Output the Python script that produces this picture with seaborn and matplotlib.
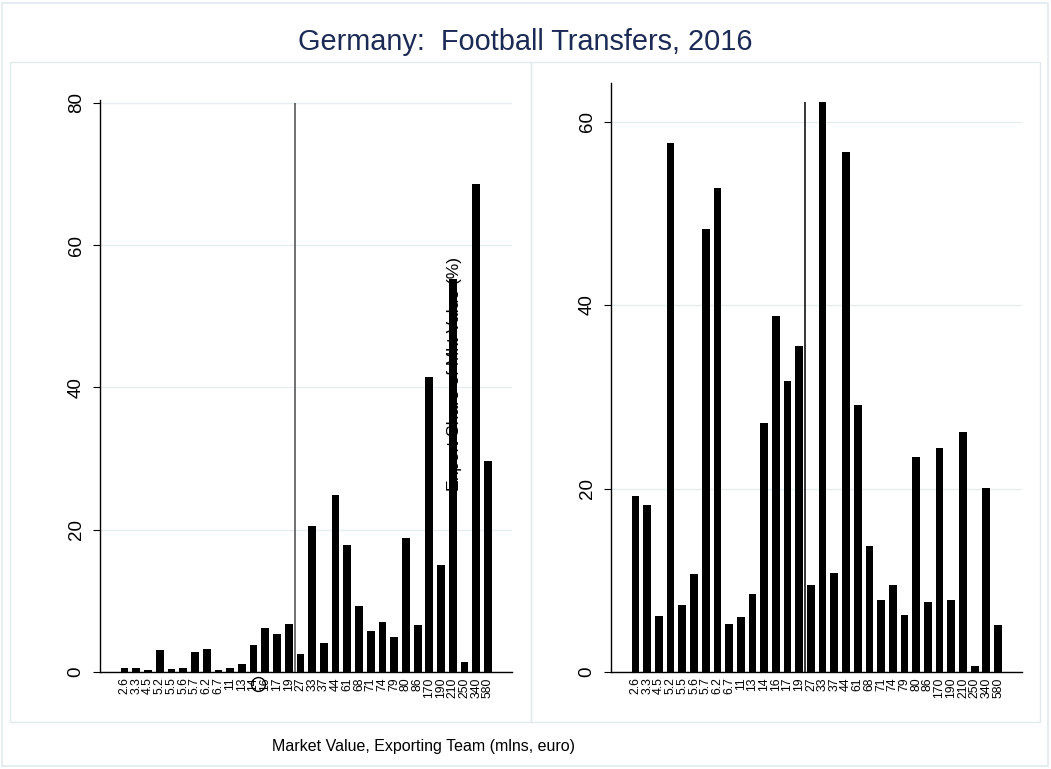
import numpy as np
import pandas as pd
import matplotlib
matplotlib.use("Agg")
import matplotlib.pyplot as plt
import matplotlib.transforms as mtransforms
from matplotlib.patches import Rectangle
import seaborn as sns

# ---------------- data ----------------
categories = ["2.6", "3.3", "4.5", "5.2", "5.5", "5.6", "5.7", "6.2", "6.7", "11",
              "13", "14", "16", "17", "19", "27", "33", "37", "44", "61",
              "68", "71", "74", "79", "80", "86", "170", "190", "210", "250",
              "340", "580"]
left_values = [0.5, 0.6, 0.25, 3.05, 0.4, 0.6, 2.8, 3.3, 0.35, 0.6,
               1.1, 3.75, 6.15, 5.4, 6.7, 2.6, 20.5, 4.1, 24.9, 17.9,
               9.3, 5.7, 7.0, 4.9, 18.8, 6.6, 41.5, 15.0, 55.2, 1.4,
               68.6, 29.6]
right_values = [19.2, 18.2, 6.1, 57.7, 7.3, 10.7, 48.3, 52.8, 5.2, 6.0,
                8.5, 27.1, 38.8, 31.7, 35.5, 9.5, 62.1, 10.8, 56.7, 29.1,
                13.7, 7.9, 9.45, 6.2, 23.4, 7.6, 24.4, 7.9, 26.2, 0.6,
                20.1, 5.1]
left_yticks = [0, 20, 40, 60, 80]
right_yticks = [0, 20, 40, 60]
split_category = "27"   # reference line drawn just before this category
left_line_top = 80

title = "Germany:  Football Transfers, 2016"
xlabel = "Market Value, Exporting Team (mlns, euro)"
ylabel = "Export Share of Mkt Value (%)"

# ---------------- style ----------------
sns.set_style("white")
plt.rcParams["font.family"] = ["Liberation Sans", "DejaVu Sans"]

W, H = 1051, 769
fig = plt.figure(figsize=(W / 100, H / 100), dpi=100)
fig.patch.set_facecolor("white")

def px_axes(x0, y0, x1, y1):
    return fig.add_axes([x0 / W, 1 - y1 / H, (x1 - x0) / W, (y1 - y0) / H])

# panel frames
border = "#e2eaee"
fig.add_artist(Rectangle((2 / W, 1 - 766 / H), 1046 / W, 763 / H, transform=fig.transFigure,
                         fill=False, edgecolor=border, lw=1.2))
fig.add_artist(Rectangle((10 / W, 1 - 722 / H), 521 / W, 660 / H, transform=fig.transFigure,
                         fill=False, edgecolor=border, lw=1.0))
fig.add_artist(Rectangle((531 / W, 1 - 722 / H), 509 / W, 660 / H, transform=fig.transFigure,
                         fill=False, edgecolor=border, lw=1.0))

ax1 = px_axes(100, 100, 512, 672)
ax2 = px_axes(611, 83, 1022, 672)

df_left = pd.DataFrame({"cat": categories, "val": left_values})
df_right = pd.DataFrame({"cat": categories, "val": right_values})

grid_col = "#e7eef2"
split_pos = categories.index(split_category) - 0.5

for ax, df, yt, ytop, line_top, line_col in [
    (ax1, df_left, left_yticks, 80.4, left_line_top, "#4a4a4a"),
    (ax2, df_right, right_yticks, 64.2, max(right_values), "black"),
]:
    sns.barplot(data=df, x="cat", y="val", order=categories, color="black",
                saturation=1, width=0.66, ax=ax, edgecolor="black", linewidth=0)
    ax.set_xlim(-2.1, 33.05)
    ax.set_ylim(0, ytop)
    ax.set_yticks(yt)
    ax.set_yticklabels([str(v) for v in yt], rotation=90, va="center", fontsize=13.5)
    ax.set_xticks(range(len(categories)))
    ax.set_xticklabels(categories, rotation=90, fontsize=8.8)
    ax.set_xlabel("")
    ax.set_ylabel("")
    ax.set_axisbelow(True)
    for v in yt:
        ax.axhline(v, color=grid_col, lw=1.0, zorder=0.4)
    for s in ["top", "right"]:
        ax.spines[s].set_visible(False)
    for s in ["left", "bottom"]:
        ax.spines[s].set_color("black")
        ax.spines[s].set_linewidth(1.0)
    ax.tick_params(axis="y", which="major", direction="out", length=5, width=0.8,
                   colors="black", pad=6, left=True)
    ax.tick_params(axis="x", which="major", length=0, pad=4, colors="black")
    ax.vlines(split_pos, 0, line_top, color=line_col, lw=1.1, zorder=3)
    ax.set_facecolor("white")

# circle marker overlapping tick labels in the left panel
trans = mtransforms.blended_transform_factory(ax1.transData, ax1.transAxes)
ax1.plot([11.4], [-0.021], marker="o", mfc="none", mec="black", ms=10, mew=1.0,
         transform=trans, clip_on=False, zorder=5)

# y-axis title (drawn beneath bars)
ax1.text(455 / W, 1 - 374 / H, ylabel, transform=fig.transFigure, rotation=90,
         ha="center", va="center", fontsize=12.5, color="black", zorder=0.5)

fig.text(0.5, 1 - 42 / H, title, ha="center", va="center", fontsize=20.8, color="#1c2b55")
fig.text(423 / W, 1 - 747 / H, xlabel, ha="center", va="center", fontsize=11.5, color="black")

fig.savefig("out.png", dpi=100, facecolor="white")
